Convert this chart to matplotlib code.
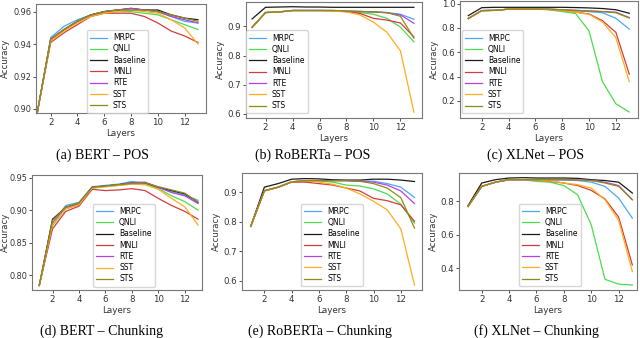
import matplotlib
matplotlib.use("Agg")
import matplotlib.pyplot as plt

layers = list(range(1, 14))
tasks = ["MRPC", "QNLI", "Baseline", "MNLI", "RTE", "SST", "STS"]
colors = {"MRPC": "#4ba8f5", "QNLI": "#4cdc4c", "Baseline": "#1a1a1a", "MNLI": "#d23c3c",
          "RTE": "#b540e8", "SST": "#ffad1f", "STS": "#8c8c14"}

# (a) BERT - POS
bert_pos = {
    "MRPC":     [0.898, 0.944, 0.951, 0.955, 0.958, 0.960, 0.961, 0.961, 0.961, 0.960, 0.957, 0.954, 0.953],
    "QNLI":     [0.898, 0.943, 0.949, 0.954, 0.958, 0.959, 0.960, 0.960, 0.959, 0.958, 0.955, 0.952, 0.949],
    "Baseline": [0.898, 0.943, 0.949, 0.954, 0.958, 0.960, 0.961, 0.962, 0.961, 0.961, 0.958, 0.956, 0.955],
    "MNLI":     [0.898, 0.941, 0.947, 0.952, 0.957, 0.959, 0.959, 0.959, 0.957, 0.953, 0.948, 0.945, 0.941],
    "RTE":      [0.898, 0.943, 0.949, 0.954, 0.958, 0.960, 0.961, 0.962, 0.961, 0.960, 0.957, 0.955, 0.953],
    "SST":      [0.898, 0.942, 0.948, 0.953, 0.957, 0.959, 0.960, 0.961, 0.960, 0.959, 0.955, 0.950, 0.940],
    "STS":      [0.898, 0.943, 0.949, 0.954, 0.958, 0.960, 0.961, 0.961, 0.961, 0.960, 0.958, 0.956, 0.954],
}

# (b) RoBERTa - POS
roberta_pos = {
    "MRPC":     [0.897, 0.948, 0.950, 0.955, 0.955, 0.955, 0.955, 0.953, 0.952, 0.950, 0.948, 0.942, 0.925],
    "QNLI":     [0.897, 0.948, 0.950, 0.955, 0.955, 0.955, 0.955, 0.952, 0.948, 0.942, 0.928, 0.898, 0.847],
    "Baseline": [0.926, 0.966, 0.967, 0.968, 0.967, 0.967, 0.966, 0.966, 0.966, 0.966, 0.966, 0.966, 0.966],
    "MNLI":     [0.897, 0.948, 0.950, 0.955, 0.955, 0.955, 0.954, 0.951, 0.945, 0.928, 0.922, 0.912, 0.864],
    "RTE":      [0.897, 0.948, 0.950, 0.955, 0.955, 0.955, 0.955, 0.953, 0.952, 0.950, 0.947, 0.940, 0.911],
    "SST":      [0.897, 0.948, 0.950, 0.955, 0.955, 0.955, 0.953, 0.950, 0.940, 0.915, 0.880, 0.816, 0.605],
    "STS":      [0.897, 0.948, 0.950, 0.955, 0.955, 0.955, 0.955, 0.953, 0.951, 0.950, 0.948, 0.935, 0.860],
}

# (c) XLNet - POS
xlnet_pos = {
    "MRPC":     [0.878, 0.943, 0.945, 0.955, 0.955, 0.955, 0.955, 0.948, 0.940, 0.935, 0.925, 0.880, 0.790],
    "QNLI":     [0.878, 0.943, 0.945, 0.955, 0.955, 0.955, 0.950, 0.935, 0.919, 0.775, 0.358, 0.176, 0.108],
    "Baseline": [0.902, 0.967, 0.970, 0.970, 0.970, 0.970, 0.970, 0.970, 0.968, 0.965, 0.960, 0.950, 0.921],
    "MNLI":     [0.878, 0.943, 0.945, 0.955, 0.955, 0.955, 0.952, 0.945, 0.930, 0.915, 0.860, 0.764, 0.420],
    "RTE":      [0.878, 0.943, 0.945, 0.955, 0.955, 0.955, 0.955, 0.950, 0.945, 0.940, 0.935, 0.930, 0.885],
    "SST":      [0.878, 0.943, 0.945, 0.955, 0.955, 0.955, 0.952, 0.945, 0.930, 0.912, 0.850, 0.720, 0.358],
    "STS":      [0.878, 0.943, 0.945, 0.955, 0.955, 0.955, 0.955, 0.950, 0.945, 0.940, 0.935, 0.925, 0.882],
}

# (d) BERT - Chunking
bert_chunk = {
    "MRPC":     [0.784, 0.880, 0.907, 0.912, 0.936, 0.938, 0.940, 0.944, 0.942, 0.935, 0.928, 0.923, 0.915],
    "QNLI":     [0.784, 0.876, 0.902, 0.908, 0.934, 0.936, 0.938, 0.940, 0.940, 0.933, 0.922, 0.913, 0.900],
    "Baseline": [0.784, 0.886, 0.904, 0.910, 0.935, 0.937, 0.939, 0.942, 0.942, 0.935, 0.930, 0.925, 0.912],
    "MNLI":     [0.784, 0.871, 0.898, 0.906, 0.932, 0.930, 0.931, 0.933, 0.930, 0.918, 0.907, 0.898, 0.886],
    "RTE":      [0.784, 0.880, 0.904, 0.910, 0.935, 0.937, 0.939, 0.942, 0.943, 0.935, 0.927, 0.922, 0.910],
    "SST":      [0.784, 0.878, 0.902, 0.908, 0.934, 0.936, 0.938, 0.940, 0.939, 0.932, 0.918, 0.905, 0.877],
    "STS":      [0.784, 0.884, 0.905, 0.911, 0.935, 0.937, 0.939, 0.941, 0.942, 0.936, 0.931, 0.926, 0.912],
}

# (e) RoBERTa - Chunking
roberta_chunk = {
    "MRPC":     [0.785, 0.906, 0.918, 0.936, 0.940, 0.940, 0.940, 0.940, 0.938, 0.938, 0.930, 0.918, 0.883],
    "QNLI":     [0.785, 0.906, 0.918, 0.936, 0.940, 0.940, 0.935, 0.925, 0.922, 0.912, 0.895, 0.860, 0.796],
    "Baseline": [0.785, 0.918, 0.930, 0.945, 0.947, 0.946, 0.943, 0.942, 0.942, 0.945, 0.945, 0.942, 0.937],
    "MNLI":     [0.785, 0.905, 0.917, 0.935, 0.935, 0.930, 0.925, 0.915, 0.905, 0.880, 0.872, 0.858, 0.802],
    "RTE":      [0.785, 0.906, 0.918, 0.936, 0.940, 0.940, 0.940, 0.940, 0.938, 0.935, 0.925, 0.905, 0.862],
    "SST":      [0.785, 0.905, 0.918, 0.936, 0.940, 0.935, 0.928, 0.915, 0.895, 0.870, 0.841, 0.776, 0.586],
    "STS":      [0.785, 0.906, 0.918, 0.936, 0.940, 0.940, 0.940, 0.940, 0.938, 0.930, 0.915, 0.882, 0.779],
}

# (f) XLNet - Chunking
xlnet_chunk = {
    "MRPC":     [0.770, 0.890, 0.915, 0.930, 0.930, 0.930, 0.930, 0.928, 0.925, 0.915, 0.890, 0.820, 0.700],
    "QNLI":     [0.770, 0.890, 0.915, 0.930, 0.930, 0.920, 0.915, 0.895, 0.840, 0.660, 0.334, 0.305, 0.300],
    "Baseline": [0.775, 0.910, 0.930, 0.940, 0.942, 0.940, 0.940, 0.940, 0.938, 0.930, 0.925, 0.915, 0.850],
    "MNLI":     [0.770, 0.890, 0.915, 0.930, 0.930, 0.928, 0.920, 0.910, 0.895, 0.866, 0.815, 0.706, 0.420],
    "RTE":      [0.770, 0.890, 0.915, 0.930, 0.930, 0.930, 0.930, 0.930, 0.928, 0.925, 0.915, 0.895, 0.810],
    "SST":      [0.770, 0.890, 0.915, 0.930, 0.930, 0.928, 0.922, 0.910, 0.900, 0.880, 0.810, 0.686, 0.380],
    "STS":      [0.770, 0.890, 0.915, 0.930, 0.930, 0.930, 0.930, 0.930, 0.928, 0.925, 0.910, 0.890, 0.810],
}

W, H = 640, 338
fig = plt.figure(figsize=(W / 100, H / 100), dpi=100)

# panel: data, caption, box (l, r, top, bottom px), xlim, ylim, yticks, legend anchor
panels = [
    (bert_pos, "(a) BERT \u2013 POS", (36, 206, 4, 113), (0.9, 13.6), (0.8975, 0.9647),
     [0.90, 0.92, 0.94, 0.96], "{:.2f}", ("lower center", (0.48, 0.0)), 102, 155),
    (roberta_pos, "(b) RoBERTa \u2013 POS", (246, 422, 1.5, 118), (0.55, 13.6), (0.585, 0.986),
     [0.6, 0.7, 0.8, 0.9], "{:.1f}", ("lower left", (0.0, 0.04)), 313, 155),
    (xlnet_pos, "(c) XLNet \u2013 POS", (460, 638, 1, 118), (0.38, 13.65), (0.059, 1.022),
     [0.2, 0.4, 0.6, 0.8, 1.0], "{:.1f}", ("lower left", (0.01, 0.04)), 536, 155),
    (bert_chunk, "(d) BERT \u2013 Chunking", (32, 202, 175, 290), (0.45, 13.3), (0.777, 0.954),
     [0.80, 0.85, 0.90, 0.95], "{:.2f}", ("lower center", (0.54, 0.03)), 102, 331),
    (roberta_chunk, "(e) RoBERTa \u2013 Chunking", (242, 422, 173, 290), (0.36, 13.55), (0.569, 0.966),
     [0.6, 0.7, 0.8, 0.9], "{:.1f}", ("lower center", (0.5, 0.03)), 320, 331),
    (xlnet_chunk, "(f) XLNet \u2013 Chunking", (459, 637, 173, 290), (0.34, 13.34), (0.27, 0.97),
     [0.4, 0.6, 0.8], "{:.1f}", ("lower center", (0.51, 0.03)), 536, 331),
]

for data, caption, box, xlim, ylim, yticks, fmt, leg, cx, cy in panels:
    l, r, t, b = box
    left_col = l < 100
    ax = fig.add_axes([l / W, 1 - b / H, (r - l) / W, (b - t) / H])
    for task in tasks:
        ax.plot(layers, data[task], color=colors[task], lw=0.9, label=task)
    ax.set_xlim(*xlim)
    ax.set_ylim(*ylim)
    ax.set_xticks([2, 4, 6, 8, 10, 12])
    ax.set_yticks(yticks)
    ax.set_yticklabels([fmt.format(v) for v in yticks])
    ax.tick_params(labelsize=6.2, length=2.5, width=0.6, pad=1.2, colors="#333333")
    ax.tick_params(axis="y", pad=0.9, labelsize=5.9 if left_col else 6.2)
    for s in ax.spines.values():
        s.set_color("#777777")
        s.set_linewidth(0.8)
    ax.set_xlabel("Layers", fontsize=6.3, labelpad=1, color="#333333")
    ax.set_ylabel("Accuracy", fontsize=6.1, color="#333333")
    # right edge of the rotated label, in pixels; left column kept inside the figure
    lab_x = 10.3 if left_col else l - 21
    ax.yaxis.set_label_coords((lab_x - l) / (r - l), 0.5)
    ax.legend(loc=leg[0], bbox_to_anchor=leg[1], fontsize=5.5, frameon=True, handlelength=2.2,
              borderpad=0.4, labelspacing=0.3, handletextpad=0.8, borderaxespad=0.0)
    fig.text(cx / W, 1 - cy / H, caption, ha="center", va="center",
             fontsize=10, family="Liberation Serif")

fig.savefig("out.png", dpi=100)
